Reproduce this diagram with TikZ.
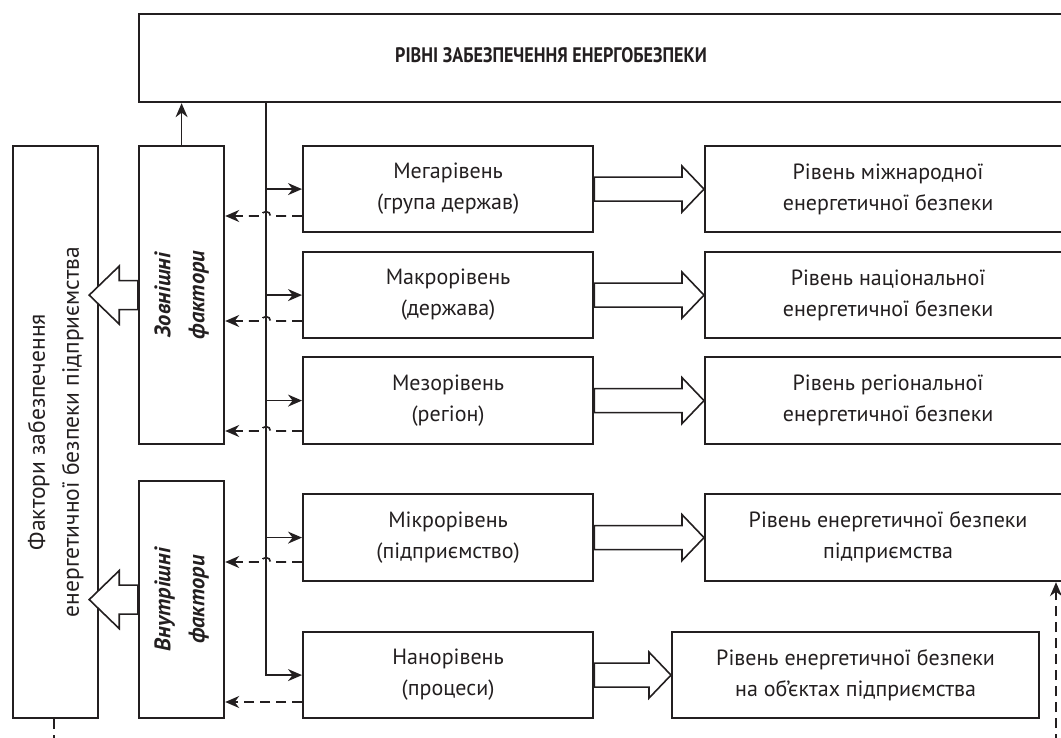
\documentclass[tikz,border=0pt]{standalone}
\usepackage{fontspec}
\setmainfont{PT Sans}
\usetikzlibrary{arrows.meta,calc}
\definecolor{ink}{HTML}{231F20}
\newcommand{\fatarrow}[5]{%
  \draw[fat] ($(#1)+(0,-#3)$) -- ($(#2)+(#5,-#3)$) -- ($(#2)+(#5,-#4)$) -- (#2)
    -- ($(#2)+(#5,#4)$) -- ($(#2)+(#5,#3)$) -- ($(#1)+(0,#3)$) -- cycle;}
\begin{document}
\begin{tikzpicture}[x=1pt,y=-1pt,
  box/.style={draw=ink, line width=2.2pt, rectangle, inner sep=0pt, anchor=north west,
    align=center, text=ink, font=\fontsize{22}{31}\selectfont},
  lbl/.style={align=center, text=ink, inner sep=0pt},
  conn/.style={draw=ink, line width=1.6pt},
  tip/.style={-{Stealth[length=14pt,width=12pt]}},
  dsh/.style={dash pattern=on 10pt off 6pt},
  fat/.style={draw=ink, line width=1.6pt, fill=white, line join=miter},
]
\useasboundingbox (0,0) rectangle (1061,738);
\clip (0,0) rectangle (1061,738);

% boxes
\node[box, minimum width=932pt, minimum height=88pt] (top) at (138,13) {};
\node[lbl, font=\fontsize{21}{25}\selectfont\bfseries] (title) at (551,55) {\scalebox{0.86}[1]{РІВНІ ЗАБЕЗПЕЧЕННЯ ЕНЕРГОБЕЗПЕКИ}};

\node[box, minimum width=85pt, minimum height=572pt] (fac) at (12,145) {};
\node[lbl, rotate=90, font=\fontsize{23.5}{34}\selectfont] (factxt) at (fac.center) {Фактори забезпечення\\енергетичної безпеки підприємства};

\node[box, minimum width=85pt, minimum height=298pt] (ext) at (138,145) {};
\node[lbl, rotate=90, font=\fontsize{22.5}{34}\selectfont\bfseries\itshape] (exttxt) at (ext.center) {Зовнішні\\фактори};
\node[box, minimum width=85pt, minimum height=237pt] (int) at (138,480) {};
\node[lbl, rotate=90, font=\fontsize{22.5}{34}\selectfont\bfseries\itshape] (inttxt) at (int.center) {Внутрішні\\фактори};

\node[box, minimum width=290pt, minimum height=86pt] (mega)  at (302,145) {Мегарівень\\(група держав)};
\node[box, minimum width=290pt, minimum height=86pt] (macro) at (302,251) {Макрорівень\\(держава)};
\node[box, minimum width=290pt, minimum height=87pt] (mezo)  at (302,356) {Мезорівень\\(регіон)};
\node[box, minimum width=290pt, minimum height=87pt] (micro) at (302,493) {Мікрорівень\\(підприємство)};
\node[box, minimum width=290pt, minimum height=86pt] (nano)  at (302,631) {Нанорівень\\(процеси)};

\node[box, minimum width=366pt, minimum height=86pt] (r1) at (704,145) {Рівень міжнародної\\енергетичної безпеки};
\node[box, minimum width=366pt, minimum height=86pt] (r2) at (704,251) {Рівень національної\\енергетичної безпеки};
\node[box, minimum width=366pt, minimum height=87pt] (r3) at (704,356) {Рівень регіональної\\енергетичної безпеки};
\node[box, minimum width=366pt, minimum height=87pt] (r4) at (704,493) {Рівень енергетичної безпеки\\підприємства};
\node[box, minimum width=367pt, minimum height=86pt] (r5) at (671,631) {Рівень енергетичної безпеки\\на об’єктах підприємства};

% helper coordinates
\coordinate (vx) at (266,0);
\coordinate (hr) at (270.5,0);

% arrow from external factors up to the title box
\draw[conn, tip] (ext.north) -- (ext.north |- top.south);

% vertical distribution line and solid arrows
\draw[conn, tip] (top.south -| vx) |- (nano.west);
\foreach \b in {mega,macro,mezo,micro}
  \draw[conn, tip] (\b.west -| vx) -- (\b.west);

% dashed feedback arrows
\coordinate (d1) at (302,216);
\coordinate (d2) at (302,321);
\coordinate (d3) at (302,431);
\coordinate (d4) at (302,562);
\coordinate (d5) at (302,702);
\draw[conn, dsh, tip] (d1 -| mega.west) -- (d1 -| hr) arc[start angle=0, end angle=-180, radius=4.5] -- (d1 -| ext.east);
\draw[conn, dsh, tip] (d2 -| macro.west) -- (d2 -| hr) arc[start angle=0, end angle=-180, radius=4.5] -- (d2 -| ext.east);
\draw[conn, dsh, tip] (d3 -| mezo.west) -- (d3 -| hr) arc[start angle=0, end angle=-180, radius=4.5] -- (d3 -| ext.east);
\draw[conn, dsh, tip] (d4 -| micro.west) -- (d4 -| hr) arc[start angle=0, end angle=-180, radius=4.5] -- (d4 -| int.east);
\draw[conn, dsh, tip] (d5 -| nano.west) -- (d5 -| int.east);

% fat arrows
\coordinate (t1) at ($(ext.west -| fac.east)+(-10,0)$);
\coordinate (t2) at ($(int.west -| fac.east)+(-10,0)$);
\fatarrow{ext.west}{t1}{14.5}{29}{30}
\fatarrow{int.west}{t2}{14.5}{29}{30}
\fatarrow{mega.east}{r1.west}{12}{23}{-22}
\fatarrow{macro.east}{r2.west}{12}{23}{-22}
\fatarrow{mezo.east}{r3.west}{12}{23}{-22}
\fatarrow{micro.east}{r4.west}{12}{23}{-22}
\fatarrow{nano.east}{r5.west}{12}{23}{-22}

% dashed lines leaving the picture
\coordinate (bl) at (54,760);
\draw[conn, dsh] (fac.south -| bl) -- (bl);
\coordinate (br) at (1056,760);
\draw[conn, dsh, tip] (br) -- (br |- r4.south);
\end{tikzpicture}
\end{document}
